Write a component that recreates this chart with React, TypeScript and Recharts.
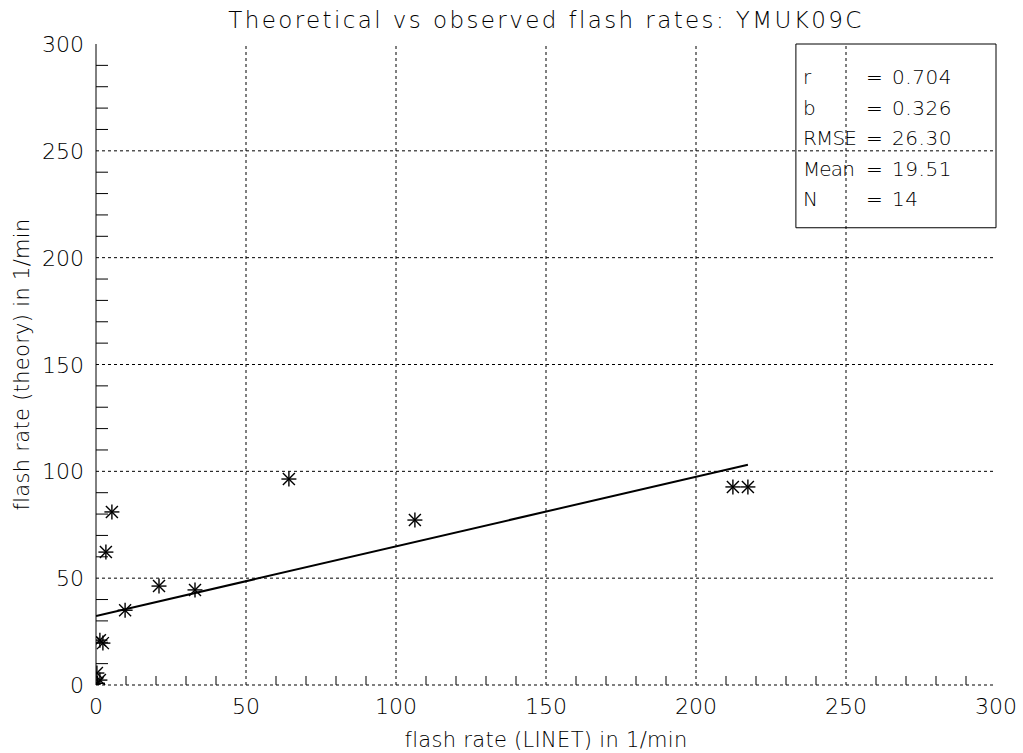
import React from 'react';
import { ScatterChart, Scatter, XAxis, YAxis, ReferenceLine, ReferenceArea } from 'recharts';

const obsX = [0.5, 0.3, 1.3, 2.3, 1.3, 3.3, 5.3, 9.7, 21, 33, 64.3, 106.3, 212.3, 217.3];
const theoY = [0.8, 5.6, 2.3, 19.6, 21, 62.2, 81, 35, 46.3, 44.5, 96.4, 77.2, 92.7, 92.7];
const fitX = [0, 217.3];
const fitY = [32.3, 103.1];
const tickValues = [0, 10, 20, 30, 40, 50, 60, 70, 80, 90, 100, 110, 120, 130, 140, 150, 160, 170, 180, 190, 200, 210, 220, 230, 240, 250, 260, 270, 280, 290, 300];
const gridValues = [50, 100, 150, 200, 250];
const statNames = ['r', 'b', 'RMSE', 'Mean', 'N'];
const statValues = ['0.704', '0.326', '26.30', '19.51', '14'];
const title = 'Theoretical vs observed flash rates: YMUK09C';
const xLabel = 'flash rate (LINET) in 1/min';
const yLabel = 'flash rate (theory) in 1/min';

const points = obsX.map((x, i) => ({ x, y: theoY[i] }));
const fitLine = fitX.map((x, i) => ({ x, y: fitY[i] }));

const FONT = '"DejaVu Sans", sans-serif';
const FW = 200;

const Star = (props: any) => {
  const { cx, cy } = props;
  if (cx == null || cy == null) return null;
  const r = 7.5;
  const d = 6;
  return (
    <g stroke="#000" strokeWidth={1.4}>
      <line x1={cx} y1={cy - r} x2={cx} y2={cy + r} />
      <line x1={cx - r} y1={cy} x2={cx + r} y2={cy} />
      <line x1={cx - d} y1={cy - d} x2={cx + d} y2={cy + d} />
      <line x1={cx - d} y1={cy + d} x2={cx + d} y2={cy - d} />
    </g>
  );
};

const BottomTick = (props: any) => {
  const { x, y, payload } = props;
  const v = payload.value;
  const major = v % 50 === 0;
  return (
    <g>
      {!major && <line x1={x} x2={x} y1={y} y2={y - 9} stroke="#000" />}
      {major && (
        <text x={x} y={y + 29} textAnchor="middle" fontFamily={FONT} fontWeight={FW} fontSize={22} fill="#000">
          {v}
        </text>
      )}
    </g>
  );
};

const TopTick = (props: any) => {
  const { x, y, payload } = props;
  const v = payload.value;
  if (v % 50 === 0) return <g />;
  return <line x1={x} x2={x} y1={y} y2={y + 9} stroke="#000" />;
};

const LeftTick = (props: any) => {
  const { x, y, payload } = props;
  const v = payload.value;
  const major = v % 50 === 0;
  return (
    <g>
      {!major && <line x1={x} x2={x + 12} y1={y} y2={y} stroke="#000" />}
      {major && (
        <text x={x - 12} y={y + 8} textAnchor="end" fontFamily={FONT} fontWeight={FW} fontSize={22} fill="#000">
          {v}
        </text>
      )}
    </g>
  );
};

const RightTick = (props: any) => {
  const { x, y, payload } = props;
  const v = payload.value;
  if (v % 50 === 0) return <g />;
  return <line x1={x} x2={x - 12} y1={y} y2={y} stroke="#000" />;
};

const StatsLabel = (props: any) => {
  const vb = props.viewBox || {};
  const x0 = vb.x + 7;
  const y0 = vb.y + 40;
  const common = { fontFamily: FONT, fontWeight: FW, fontSize: 20, fill: '#000' } as any;
  return (
    <g>
      {statNames.map((s, i) => (
        <g key={i}>
          <text x={x0} y={y0 + i * 30.5} letterSpacing={-0.8} {...common}>{s}</text>
          <text x={x0 + 63} y={y0 + i * 30.5} {...common}>=</text>
          <text x={x0 + 89} y={y0 + i * 30.5} letterSpacing={0.6} {...common}>{statValues[i]}</text>
        </g>
      ))}
    </g>
  );
};

export default function App() {
  return (
    <div style={{ position: 'absolute', left: 0, top: 0, width: 1023, height: 753, background: '#fff' }}>
      <ScatterChart width={1023} height={753} margin={{ top: 44, right: 27, bottom: 28, left: 36 }}>
        <XAxis
          type="number"
          dataKey="x"
          domain={[0, 300]}
          ticks={tickValues}
          interval={0}
          allowDataOverflow
          height={40}
          tickSize={0}
          tickMargin={0}
          tickLine={false}
          axisLine={{ stroke: '#000', strokeDasharray: '3 3' }}
          tick={<BottomTick />}
          label={(p: any) => {
            const vb = p.viewBox;
            return (
              <text x={vb.x + vb.width / 2} y={vb.y + 62} textAnchor="middle" fontFamily={FONT} fontWeight={FW} fontSize={21} letterSpacing={0.3} fill="#000">
                {xLabel}
              </text>
            );
          }}
        />
        <XAxis
          xAxisId="top"
          orientation="top"
          type="number"
          domain={[0, 300]}
          ticks={tickValues}
          interval={0}
          height={0}
          tickSize={0}
          tickMargin={0}
          tickLine={false}
          axisLine={{ stroke: '#000', strokeDasharray: '3 3' }}
          tick={<TopTick />}
        />
        <YAxis
          type="number"
          dataKey="y"
          domain={[0, 300]}
          ticks={tickValues}
          interval={0}
          allowDataOverflow
          width={60}
          tickSize={0}
          tickMargin={0}
          tickLine={false}
          axisLine={{ stroke: '#000' }}
          tick={<LeftTick />}
          label={(p: any) => {
            const vb = p.viewBox;
            const cx = vb.x - 7;
            const cy = vb.y + vb.height / 2;
            return (
              <text x={cx} y={cy} transform={`rotate(-90, ${cx}, ${cy})`} textAnchor="middle" fontFamily={FONT} fontWeight={FW} fontSize={21} letterSpacing={0.3} fill="#000">
                {yLabel}
              </text>
            );
          }}
        />
        <YAxis
          yAxisId="right"
          orientation="right"
          type="number"
          domain={[0, 300]}
          ticks={tickValues}
          interval={0}
          width={0}
          tickSize={0}
          tickMargin={0}
          tickLine={false}
          axisLine={{ stroke: '#000' }}
          tick={<RightTick />}
        />
        {gridValues.map((v) => (
          <ReferenceLine key={'vx' + v} x={v} stroke="#000" strokeWidth={1} strokeDasharray="3 3" />
        ))}
        {gridValues.map((v) => (
          <ReferenceLine key={'hy' + v} y={v} stroke="#000" strokeWidth={1} strokeDasharray="3 3" />
        ))}
        <ReferenceArea
          x1={233.3}
          x2={300}
          y1={214}
          y2={300}
          fill="#fff"
          fillOpacity={1}
          stroke="#000"
          strokeWidth={1}
          label={<StatsLabel />}
        />
        <Scatter data={fitLine} line={{ stroke: '#000', strokeWidth: 2 }} shape={() => null} isAnimationActive={false} />
        <Scatter data={points} shape={<Star />} isAnimationActive={false} />
      </ScatterChart>
      <div
        style={{
          position: 'absolute',
          left: 0,
          top: 6,
          width: 1092,
          textAlign: 'center',
          fontFamily: FONT,
          fontWeight: FW,
          fontSize: 23,
          letterSpacing: 2.4,
          lineHeight: '28px',
          color: '#000',
          whiteSpace: 'nowrap',
        }}
      >
        {title}
      </div>
    </div>
  );
}
